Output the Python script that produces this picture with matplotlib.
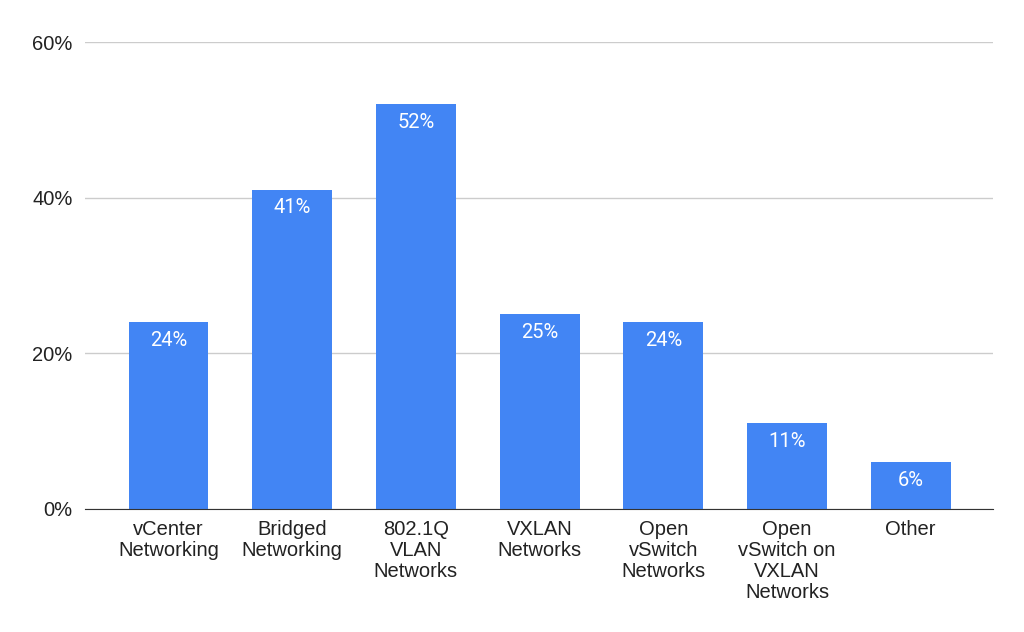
import matplotlib.pyplot as plt
from matplotlib.ticker import FuncFormatter

categories = ['vCenter\nNetworking', 'Bridged\nNetworking', '802.1Q\nVLAN\nNetworks',
              'VXLAN\nNetworks', 'Open\nvSwitch\nNetworks', 'Open\nvSwitch on\nVXLAN\nNetworks',
              'Other']
values = [24, 41, 52, 25, 24, 11, 6]
y_ticks = [0, 20, 40, 60]

plt.rcParams['font.family'] = ['Liberation Sans', 'DejaVu Sans']

fig = plt.figure(figsize=(10.24, 6.32), dpi=100)
ax = fig.add_axes([85 / 1024, 1 - 509 / 632, 908 / 1024, 467 / 632])

x = range(len(categories))
bars = ax.bar(x, values, width=0.646, color='#4285F4', zorder=3)

for xi, v in zip(x, values):
    ax.annotate(f'{v}%', (xi, v), xytext=(0, -13), textcoords='offset points',
                ha='center', va='center', color='white', fontsize=14.5,
                family=['Roboto', 'DejaVu Sans'])

ax.set_xlim(-0.675, 6.665)
ax.set_ylim(0, 60)
ax.set_yticks(y_ticks)
ax.yaxis.set_major_formatter(FuncFormatter(lambda v, p: f'{v:.0f}%'))
ax.set_xticks(list(x))
ax.set_xticklabels(categories, fontsize=14.5, linespacing=1.12, color='#222222')
ax.tick_params(axis='y', labelsize=14.5, labelcolor='#222222', length=0, pad=9)
ax.tick_params(axis='x', length=0, pad=8)

ax.grid(axis='y', color='#cccccc', linewidth=1, zorder=0)
for side in ['top', 'right', 'left']:
    ax.spines[side].set_visible(False)
ax.spines['bottom'].set_color('#333333')
ax.spines['bottom'].set_zorder(4)

fig.savefig('out.png', dpi=100)
